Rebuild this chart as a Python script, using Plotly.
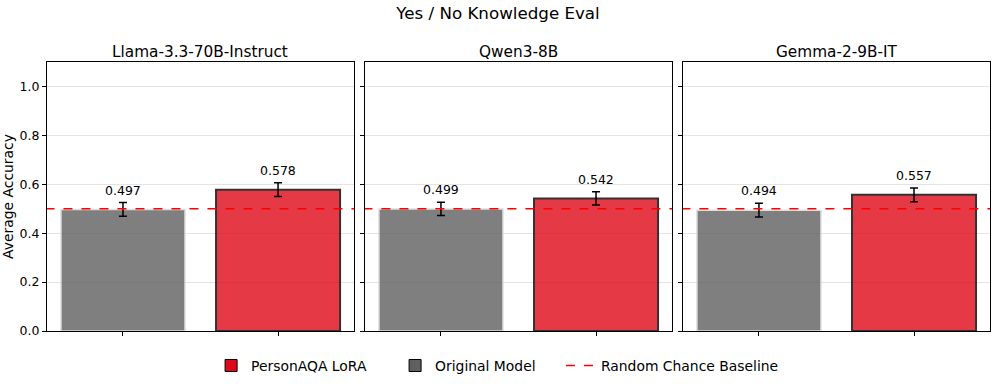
import plotly.graph_objects as go
from plotly.subplots import make_subplots

models = ["Llama-3.3-70B-Instruct", "Qwen3-8B", "Gemma-2-9B-IT"]
original_acc = [0.497, 0.499, 0.494]
original_err = [0.028, 0.027, 0.028]
lora_acc = [0.578, 0.542, 0.557]
lora_err = [0.028, 0.027, 0.028]
baseline = 0.5
y_ticks = [0.0, 0.2, 0.4, 0.6, 0.8, 1.0]

FONT = "DejaVu Sans"
RED = "rgb(224,8,24)"
GRAY = "rgb(96,96,96)"

fig = make_subplots(rows=1, cols=3, shared_yaxes=False, horizontal_spacing=0.012,
                    subplot_titles=models)

for i, m in enumerate(models):
    col = i + 1
    fig.add_trace(go.Bar(
        x=[0], y=[original_acc[i]], width=0.8,
        marker=dict(color=GRAY, opacity=0.8, line=dict(color="rgba(215,215,215,1)", width=1.5)),
        error_y=dict(type="data", array=[original_err[i]], color="black", thickness=1.5, width=4),
        name="Original Model", showlegend=False, hoverinfo="skip",
    ), row=1, col=col)
    fig.add_trace(go.Bar(
        x=[1], y=[lora_acc[i]], width=0.8,
        marker=dict(color=RED, opacity=0.8, line=dict(color="black", width=2)),
        error_y=dict(type="data", array=[lora_err[i]], color="black", thickness=1.5, width=4),
        name="PersonAQA LoRA", showlegend=False, hoverinfo="skip",
    ), row=1, col=col)
    fig.add_trace(go.Scatter(
        x=[-0.5, 1.5], y=[baseline, baseline], mode="lines",
        line=dict(color="red", width=1.6, dash="dash"),
        name="Random Chance Baseline", showlegend=False, hoverinfo="skip",
    ), row=1, col=col)
    xref = "x" if i == 0 else f"x{i+1}"
    yref = "y" if i == 0 else f"y{i+1}"
    for xv, v, e in [(0, original_acc[i], original_err[i]), (1, lora_acc[i], lora_err[i])]:
        fig.add_annotation(x=xv, y=v + e, xref=xref, yref=yref, text=f"{v:.3f}",
                           showarrow=False, yanchor="bottom", yshift=3,
                           font=dict(family=FONT, size=12.5, color="black"))

# legend entries
fig.add_trace(go.Bar(x=[None], y=[None], name="PersonAQA LoRA", legend="legend",
                     marker=dict(color=RED, opacity=0.8, line=dict(color="black", width=1))), row=1, col=1)
fig.add_trace(go.Bar(x=[None], y=[None], name="Original Model", legend="legend",
                     marker=dict(color=GRAY, opacity=0.8, line=dict(color="black", width=1))), row=1, col=1)
fig.add_trace(go.Scatter(x=[None], y=[None], mode="lines", name="Random Chance Baseline", legend="legend2",
                         line=dict(color="red", width=1.6, dash="dash")), row=1, col=1)

domains = [[0.0, 0.3256], [0.3372, 0.6628], [0.6744, 1.0]]
for i in range(3):
    xa = "xaxis" if i == 0 else f"xaxis{i+1}"
    ya = "yaxis" if i == 0 else f"yaxis{i+1}"
    fig.layout[xa].update(domain=domains[i], range=[-0.49, 1.49], tickvals=[0, 1], ticktext=["", ""],
                          ticks="outside", ticklen=4, tickcolor="black", showgrid=False, automargin=False,
                          showline=True, linecolor="black", linewidth=1, mirror=True, zeroline=False)
    fig.layout[ya].update(range=[0, 1.1], tickvals=y_ticks, automargin=False,
                          ticktext=[f"{v:.1f}" for v in y_ticks] if i == 0 else [""] * len(y_ticks),
                          ticks="outside", ticklen=4, tickcolor="black",
                          showgrid=True, gridcolor="rgba(228,228,228,1)", gridwidth=1,
                          showline=True, linecolor="black", linewidth=1, mirror=True, zeroline=False,
                          tickfont=dict(family=FONT, size=12.5, color="black"))

fig.layout.yaxis.title = dict(text="Average Accuracy", font=dict(family=FONT, size=13.9, color="black"), standoff=3)

for ann in fig.layout.annotations[:3]:
    ann.font = dict(family=FONT, size=15.3, color="black")
    ann.yshift = -1

legend_font = dict(family=FONT, size=13.9, color="black")
fig.update_layout(
    width=996, height=385,
    margin=dict(l=47, r=6, t=62, b=54, autoexpand=False),
    paper_bgcolor="white", plot_bgcolor="white",
    font=dict(family=FONT, color="black"),
    title=dict(text="Yes / No Knowledge Eval", x=0.5, xanchor="center", y=0.965, yanchor="middle",
               font=dict(family=FONT, size=16.7, color="black")),
    barmode="overlay",
    legend=dict(orientation="h", x=0.174, xanchor="left", y=-0.13, yanchor="middle",
                font=legend_font, traceorder="normal", entrywidth=139),
    legend2=dict(orientation="h", x=0.545, xanchor="left", y=-0.13, yanchor="middle",
                 font=legend_font, traceorder="normal"),
    showlegend=True,
)

fig.write_html("out.html", post_script="document.body.style.margin='0';",
               config={"displayModeBar": False})
